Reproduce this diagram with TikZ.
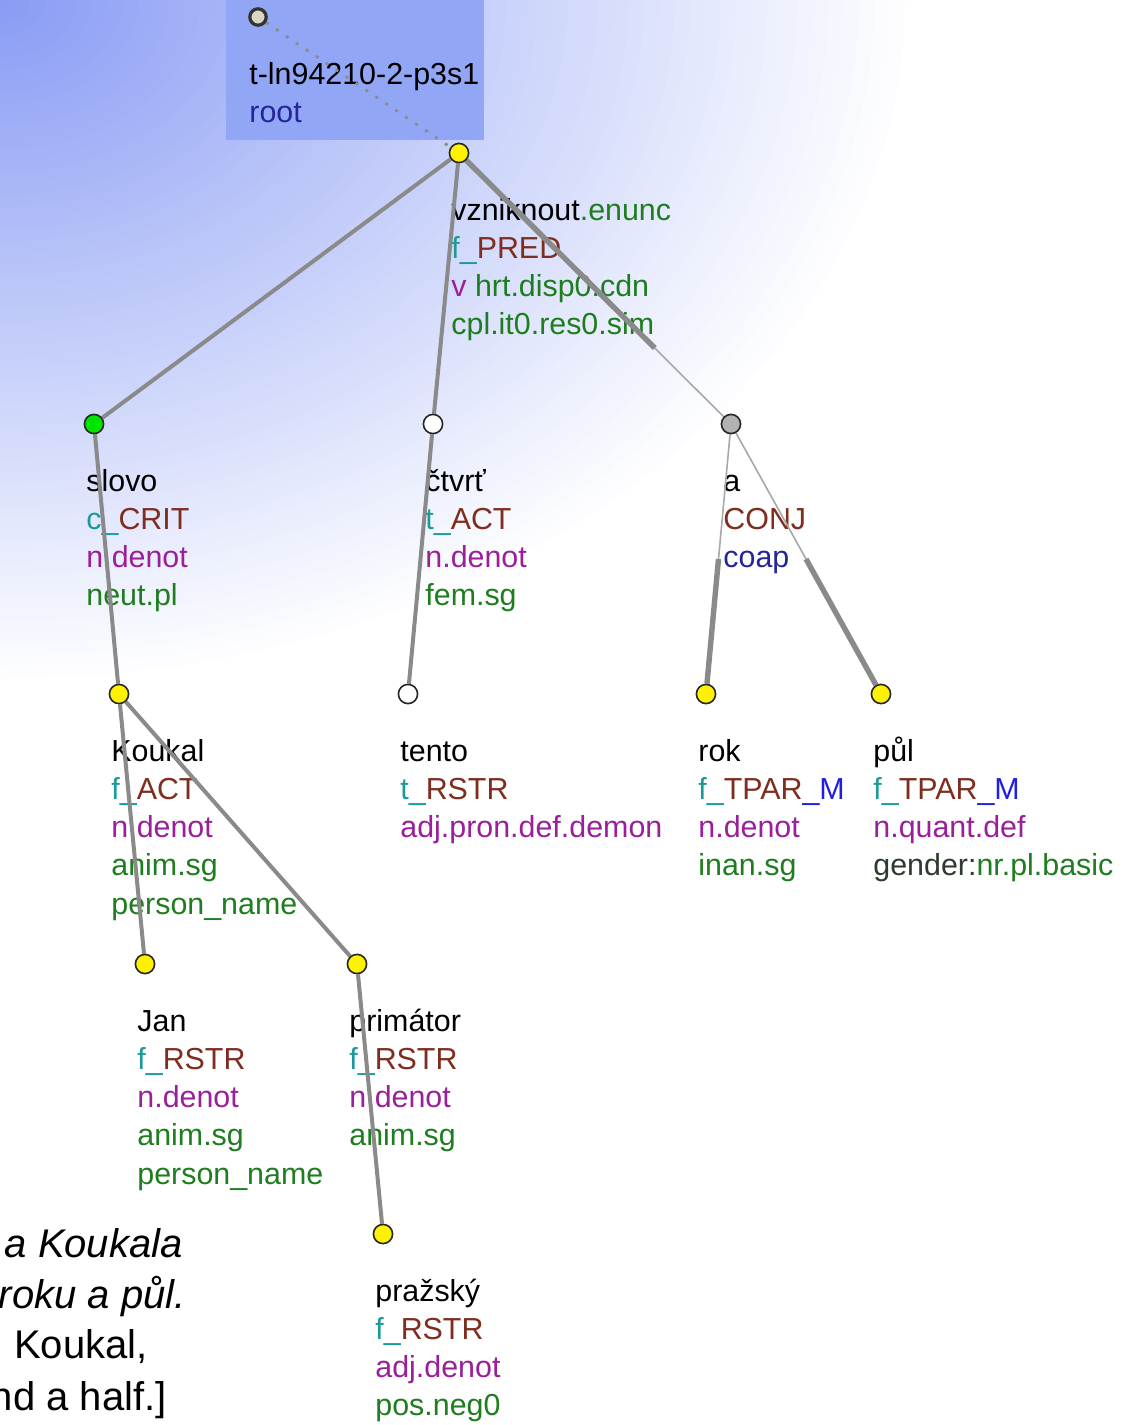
\documentclass[tikz,border=0pt]{standalone}
\usepackage{fontspec}
\setmainfont{Liberation Sans}
\usetikzlibrary{calc}
\definecolor{gcol}{HTML}{1E7D1E}
\definecolor{tcol}{HTML}{1A9A9A}
\definecolor{bcol}{HTML}{7F2D1F}
\definecolor{pcol}{HTML}{9A1F9A}
\definecolor{mcol}{HTML}{1F1FE0}
\definecolor{ccol}{HTML}{25259A}
\definecolor{dcol}{HTML}{2D3A2D}
\definecolor{bgblue}{HTML}{889BF4}
\definecolor{boxblue}{HTML}{92A6F6}
\definecolor{edgegray}{HTML}{8A8A8A}
\definecolor{thingray}{HTML}{A8A8A8}
\definecolor{rootfill}{HTML}{DAD6C6}
\pgfdeclarelayer{bg}
\pgfdeclarelayer{edges}
\pgfdeclarelayer{top}
\pgfsetlayers{bg,main,edges,top}
\newcommand\mylines[1]{\vtop{\baselineskip=19.15pt\lineskiplimit=-40pt\lineskip=0pt\relax #1}}
\newcommand\G[1]{\textcolor{gcol}{#1}}
\newcommand\T[1]{\textcolor{tcol}{#1}}
\newcommand\B[1]{\textcolor{bcol}{#1}}
\newcommand\Pu[1]{\textcolor{pcol}{#1}}
\newcommand\M[1]{\textcolor{mcol}{#1}}
\tikzset{
  tnode/.style={circle, draw=black!85, line width=0.8pt, minimum size=9.6pt, inner sep=0pt},
  yel/.style={tnode, fill=yellow},
  grn/.style={tnode, fill=green!90!black},
  wht/.style={tnode, fill=white},
  gry/.style={tnode, fill=black!30},
  rootdot/.style={tnode, fill=rootfill, draw=black!80, line width=1.6pt, minimum size=8.2pt},
  lbl/.style={anchor=base west, inner sep=0pt, font=\fontsize{15.2}{19.15}\selectfont},
  tedge/.style={draw=edgegray, line width=2pt},
  thickedge/.style={draw=edgegray, line width=2.7pt},
  thinedge/.style={draw=thingray, line width=0.8pt},
  rootedge/.style={draw=black!45, line width=1.4pt, dash pattern=on 1.5pt off 4.5pt},
  sent/.style={anchor=base east, inner sep=0pt, font=\fontsize{20}{24}\selectfont}
}
\begin{document}
\begin{tikzpicture}[x=0.5pt, y=-0.5pt]
\useasboundingbox (0,0) rectangle (1134,1425);
% background
\begin{pgfonlayer}{bg}
\fill[white] (0,0) rectangle (1134,1425);
\begin{scope}
\clip (0,0) rectangle (1134,1425);
\foreach \i in {60,59,...,1}{
  \pgfmathsetmacro\pc{100*(1-\i/60)}
  \pgfmathsetmacro\rx{\i*7.6667}
  \pgfmathsetmacro\ry{\i*5.75}
  \fill[bgblue!\pc!white] (0,0) ellipse [x radius=\rx pt, y radius=\ry pt];
}
\end{scope}
\fill[boxblue] (226,0) rectangle (484,140);
\end{pgfonlayer}
% tree nodes
\begin{pgfonlayer}{top}
\node[rootdot] (root) at (258,17) {};
\node[yel] (vz) at (459,153) {};
\node[grn] (sl) at (94,424) {};
\node[wht] (ct) at (433,424) {};
\node[gry] (a) at (731,424) {};
\node[yel] (ko) at (119,694) {};
\node[wht] (te) at (408,694) {};
\node[yel] (rok) at (706,694) {};
\node[yel] (pul) at (881,694) {};
\node[yel] (jan) at (145,964) {};
\node[yel] (pr) at (357,964) {};
\node[yel] (pz) at (383,1234) {};
\end{pgfonlayer}
% labels
\node[lbl] (Lroot) at (249,84) {\mylines{\hbox{t-ln94210-2-p3s1}\hbox{\textcolor{ccol}{root}}}};
\node[lbl] (Lvz) at (451,220) {\mylines{\hbox{vzniknout\G{.enunc}}\hbox{\T{f\_}\B{PRED}}\hbox{\Pu{v} \G{hrt.disp0.cdn}}\hbox{\G{cpl.it0.res0.sim}}}};
\node[lbl] (Lsl) at (86,491) {\mylines{\hbox{slovo}\hbox{\T{c\_}\B{CRIT}}\hbox{\Pu{n.denot}}\hbox{\G{neut.pl}}}};
\node[lbl] (Lct) at (425,491) {\mylines{\hbox{čtvrť}\hbox{\T{t\_}\B{ACT}}\hbox{\Pu{n.denot}}\hbox{\G{fem.sg}}}};
\node[lbl] (La) at (723,491) {\mylines{\hbox{a}\hbox{\B{CONJ}}\hbox{\textcolor{ccol}{coap}}}};
\node[lbl] (Lko) at (111,761) {\mylines{\hbox{Koukal}\hbox{\T{f\_}\B{ACT}}\hbox{\Pu{n.denot}}\hbox{\G{anim.sg}}\hbox{\G{person\_name}}}};
\node[lbl] (Lte) at (400,761) {\mylines{\hbox{tento}\hbox{\T{t\_}\B{RSTR}}\hbox{\Pu{adj.pron.def.demon}}}};
\node[lbl] (Lrok) at (698,761) {\mylines{\hbox{rok}\hbox{\T{f\_}\B{TPAR}\M{\_M}}\hbox{\Pu{n.denot}}\hbox{\G{inan.sg}}}};
\node[lbl] (Lpul) at (873,761) {\mylines{\hbox{půl}\hbox{\T{f\_}\B{TPAR}\M{\_M}}\hbox{\Pu{n.quant.def}}\hbox{\textcolor{dcol}{gender:}\G{nr.pl.basic}}}};
\node[lbl] (Ljan) at (137,1031) {\mylines{\hbox{Jan}\hbox{\T{f\_}\B{RSTR}}\hbox{\Pu{n.denot}}\hbox{\G{anim.sg}}\hbox{\G{person\_name}}}};
\node[lbl] (Lpr) at (349,1031) {\mylines{\hbox{primátor}\hbox{\T{f\_}\B{RSTR}}\hbox{\Pu{n.denot}}\hbox{\G{anim.sg}}}};
\node[lbl] (Lpz) at (375,1301) {\mylines{\hbox{pražský}\hbox{\T{f\_}\B{RSTR}}\hbox{\Pu{adj.denot}}\hbox{\G{pos.neg0}}}};
% sentence fragments
\node[sent, font=\fontsize{20}{24}\selectfont\itshape] (s1) at (183,1257) {a Koukala};
\node[sent, font=\fontsize{20}{24}\selectfont\itshape] (s2) at (186,1308) {roku a půl.};
\node[sent] (s3) at (148,1358) {Koukal,};
\node[sent] (s4) at (167,1410) {nd a half.]};
% edges
\begin{pgfonlayer}{edges}
\draw[rootedge] (root) -- (vz);
\draw[tedge] (vz) -- (sl);
\draw[tedge] (vz) -- (ct);
\draw[thickedge] (vz) -- ($(vz.center)!0.72!(a.center)$) coordinate (vzmid);
\draw[thinedge] (vzmid) -- (a);
\draw[tedge] (sl) -- (ko);
\draw[tedge] (ct) -- (te);
\draw[thinedge] (a) -- ($(a.center)!0.5!(rok.center)$) coordinate (rokmid);
\draw[thickedge] (rokmid) -- (rok);
\draw[thinedge] (a) -- ($(a.center)!0.5!(pul.center)$) coordinate (pulmid);
\draw[thickedge] (pulmid) -- (pul);
\draw[tedge] (ko) -- (jan);
\draw[tedge] (ko) -- (pr);
\draw[tedge] (pr) -- (pz);
\end{pgfonlayer}
\end{tikzpicture}
\end{document}
